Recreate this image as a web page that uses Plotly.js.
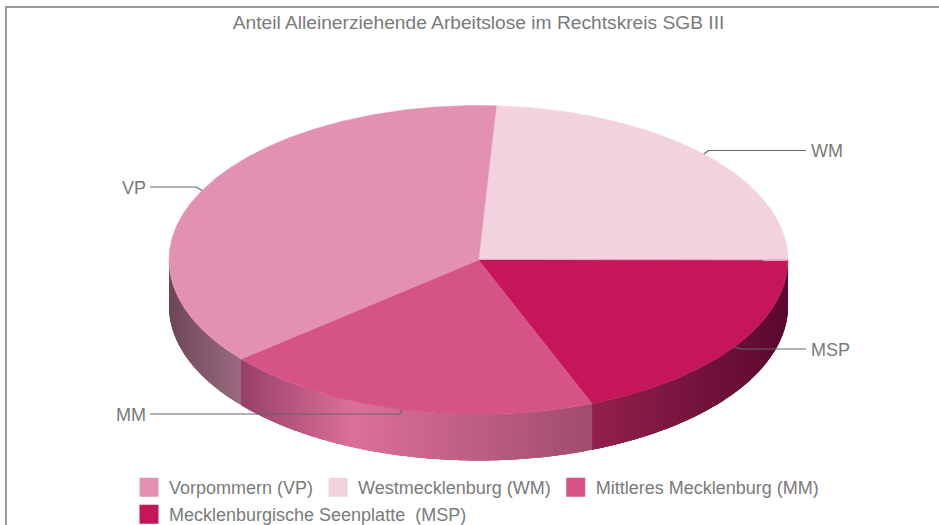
<!DOCTYPE html>
<html>
<head>
<meta charset="utf-8">
<script src="https://cdn.plot.ly/plotly-3.0.1.min.js"></script>
<style>html,body{margin:0;padding:0;background:#fff}#chart{width:939px;height:525px}</style>
</head>
<body>
<div id="chart"></div>
<script>
// Data (share in %)
var names = ['Vorpommern (VP)', 'Westmecklenburg (WM)', 'Mittleres Mecklenburg (MM)', 'Mecklenburgische Seenplatte  (MSP)'];
var codes = ['VP', 'WM', 'MM', 'MSP'];
var shares = [37.0, 24.1, 19.9, 19.0];
var chartTitle = 'Anteil Alleinerziehende Arbeitslose im Rechtskreis SGB III';
// Drawing order round the pie, clockwise from the start angle
var pieOrder = [1, 3, 2, 0];
var startAngle = 3.3;

// Styles
var topColors = ['#E391B1', '#F3D2E0', '#D65485', '#C51659'];
var wallStops = [
  [[0, '#6f4759'], [1, '#9a6b80']],
  null,
  [[0, '#98406a'], [0.32, '#dc7099'], [1, '#a04c6e']],
  [[0, '#93204c'], [1, '#5a0830']]
];
var textColor = '#7a7a7a';
var lineColor = '#666666';
var fontFamily = 'Liberation Sans, Arial, sans-serif';
var cx = 478.5, cy = 260, rx = 309.5, ry = 154.5, depth = 46;

function hex(c) { return [1, 3, 5].map(function (i) { return parseInt(c.substr(i, 2), 16); }); }
function ramp(stops, t) {
  t = Math.max(0, Math.min(1, t));
  for (var i = 1; i < stops.length; i++) {
    if (t <= stops[i][0] || i === stops.length - 1) {
      var a = stops[i - 1], b = stops[i], u = (t - a[0]) / (b[0] - a[0]);
      var ca = hex(a[1]), cb = hex(b[1]);
      return 'rgb(' + ca.map(function (v, k) { return Math.round(v + (cb[k] - v) * u); }).join(',') + ')';
    }
  }
}
function px(deg) { return cx + rx * Math.sin(deg * Math.PI / 180); }
function py(deg) { return cy - ry * Math.cos(deg * Math.PI / 180); }

var total = shares.reduce(function (a, b) { return a + b; }, 0);
var spans = {}, ang = startAngle;
pieOrder.forEach(function (i) {
  var sweep = shares[i] / total * 360;
  spans[i] = [ang, ang + sweep];
  ang += sweep;
});

var traces = [];

// Side wall: each strip runs from its own angle to the slice end, and the next one paints over it
pieOrder.forEach(function (i) {
  var a0 = Math.max(spans[i][0], 90), a1 = Math.min(spans[i][1], 270);
  if (a1 <= a0 || !wallStops[i]) return;
  var xa = px(a0), xb = px(a1), step = 0.6, n = Math.ceil((a1 - a0) / step);
  for (var k = 0; k < n; k++) {
    var d0 = a0 + (a1 - a0) * k / n, d1 = a0 + (a1 - a0) * (k + 1) / n, dEnd = Math.min(a1, d1 + 1.2);
    var t = (px((d0 + d1) / 2) - Math.min(xa, xb)) / Math.abs(xb - xa);
    var xs = [], ys = [], m, steps = 3, d;
    for (m = 0; m <= steps; m++) { d = d0 + (dEnd - d0) * m / steps; xs.push(px(d)); ys.push(py(d)); }
    for (m = steps; m >= 0; m--) { d = d0 + (dEnd - d0) * m / steps; xs.push(px(d)); ys.push(py(d) + depth); }
    xs.push(xs[0]); ys.push(ys[0]);
    traces.push({
      type: 'scatter', mode: 'none', fill: 'toself', fillcolor: ramp(wallStops[i], t),
      x: xs, y: ys, showlegend: false, hoverinfo: 'skip'
    });
  }
});

// Top face slices
pieOrder.forEach(function (i) {
  var xs = [cx], ys = [cy], a0 = spans[i][0], a1 = spans[i][1], n = Math.ceil((a1 - a0) * 2);
  for (var k = 0; k <= n; k++) {
    var d = a0 + (a1 - a0) * k / n;
    xs.push(px(d)); ys.push(py(d));
  }
  xs.push(cx); ys.push(cy);
  traces.push({
    type: 'scatter', mode: 'lines', fill: 'toself', fillcolor: topColors[i],
    x: xs, y: ys, line: { color: topColors[i], width: 0.5 },
    name: names[i], showlegend: false, hoverinfo: 'name'
  });
});

// Leader lines and labels, anchored at each slice's mid angle
var labelY = { VP: 187, WM: 150.5, MM: 414, MSP: 349 };
var labelEndX = { VP: 150, WM: 806, MM: 150, MSP: 806 };
var elbow = { VP: -6, WM: 5, MM: -2, MSP: 7 };
var annotations = [];
pieOrder.forEach(function (i) {
  var mid = (spans[i][0] + spans[i][1]) / 2, code = codes[i];
  var mx = px(mid), my = py(mid), right = labelEndX[code] > cx;
  traces.push({
    type: 'scatter', mode: 'lines',
    x: [mx, mx + elbow[code], labelEndX[code]],
    y: [my, labelY[code], labelY[code]],
    line: { color: lineColor, width: 1.2 }, showlegend: false, hoverinfo: 'skip'
  });
  annotations.push({
    x: labelEndX[code] + (right ? 3 : -2), y: labelY[code] + 0.5, xref: 'x', yref: 'y',
    text: code, showarrow: false, xanchor: right ? 'left' : 'right', yanchor: 'middle',
    font: { family: fontFamily, size: 18, color: textColor }
  });
});

// Legend entries (row 1 in legend, row 2 in legend2)
names.forEach(function (nm, i) {
  traces.push({
    type: 'scatter', mode: 'markers', x: [null], y: [null], name: nm,
    marker: { symbol: 'square', size: 16, color: topColors[i], line: { color: topColors[i], width: 3 } },
    legend: i === 3 ? 'legend2' : 'legend', showlegend: true, hoverinfo: 'skip'
  });
});

var legendBase = {
  orientation: 'h', xanchor: 'left', yanchor: 'middle', x: 129 / 939,
  bgcolor: 'rgba(0,0,0,0)', borderwidth: 0, itemclick: false, itemdoubleclick: false,
  font: { family: fontFamily, size: 18, color: textColor }
};

var layout = {
  width: 939, height: 525,
  margin: { l: 0, r: 0, t: 0, b: 0, autoexpand: false },
  paper_bgcolor: '#ffffff', plot_bgcolor: '#ffffff',
  title: {
    text: chartTitle, x: 478.5 / 939, xref: 'paper', xanchor: 'center',
    y: 1 - 22 / 525, yref: 'paper', yanchor: 'middle',
    font: { family: fontFamily, size: 19.2, color: textColor }
  },
  xaxis: { range: [0, 939], visible: false, fixedrange: true },
  yaxis: { range: [525, 0], visible: false, fixedrange: true },
  legend: Object.assign({}, legendBase, { y: 1 - 487.5 / 525 }),
  legend2: Object.assign({}, legendBase, { y: 1 - 514.5 / 525 }),
  annotations: annotations,
  shapes: [{
    type: 'path', path: 'M 6 525 L 6 7 L 939 7', xref: 'x', yref: 'y',
    line: { color: '#999999', width: 2 }
  }],
  showlegend: true
};

Plotly.newPlot('chart', traces, layout, { displayModeBar: false });
</script>
</body>
</html>
